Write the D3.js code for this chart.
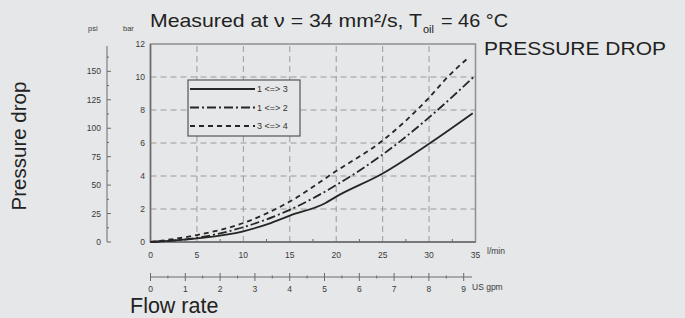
<!DOCTYPE html>
<html>
<head>
<meta charset="utf-8">
<script src="https://cdn.jsdelivr.net/npm/d3@7"></script>
<style>
  body { margin: 0; background: #e6e7e8; }
  svg { display: block; font-family: "Liberation Sans", Arial, sans-serif; }
</style>
</head>
<body>
<div id="chart"></div>
<script>
// curve readings (l/min -> bar)
const flow13 = [0, 5, 10, 12.7, 15, 18.8, 20, 25, 30, 34.7];
const dp13   = [0, 0.22, 0.65, 1.1, 1.6, 2.35, 2.75, 4.15, 5.95, 7.8];
const flow12 = [0, 5, 10, 15, 20, 25, 30, 34.8];
const dp12   = [0, 0.25, 0.9, 1.95, 3.45, 5.3, 7.55, 10.0];
const flow34 = [0, 5, 10, 15, 20, 25, 30, 32, 34.3];
const dp34   = [0, 0.42, 1.15, 2.45, 4.3, 6.15, 8.75, 10.0, 11.2];

const legendLabels = ['1 <=> 3', '1 <=> 2', '3 <=> 4'];
const dashes = [null, '9,3,2,3', '5,4'];

const lpmTicks = [0, 5, 10, 15, 20, 25, 30, 35];
const barTicks = [0, 2, 4, 6, 8, 10, 12];
const psiTicks = [0, 25, 50, 75, 100, 125, 150];
const gpmTicks = [0, 1, 2, 3, 4, 5, 6, 7, 8, 9];

const W = 685, H = 318;

const x = d3.scaleLinear().domain([0, 35]).range([150.5, 475.5]);
const y = d3.scaleLinear().domain([0, 12]).range([242, 44]);
const psi = d3.scaleLinear().domain([0, 12 * 14.5038]).range([242, 44]);
const gpm = d3.scaleLinear().domain([0, 9]).range([150.5, 463.7]);

const svg = d3.select('#chart').append('svg')
  .attr('width', W).attr('height', H);

svg.append('rect').attr('width', W).attr('height', H).attr('fill', '#e6e7e8');

// grid
const grid = svg.append('g').attr('stroke', '#9a9a9a').attr('stroke-width', 1).attr('stroke-dasharray', '6,4');
grid.selectAll('.gx').data(lpmTicks.slice(1, -1)).enter().append('line')
  .attr('x1', d => x(d)).attr('x2', d => x(d)).attr('y1', y(0)).attr('y2', y(12));
grid.selectAll('.gy').data(barTicks.slice(1, -1)).enter().append('line')
  .attr('y1', d => y(d)).attr('y2', d => y(d)).attr('x1', x(0)).attr('x2', x(35));

// frame
svg.append('rect')
  .attr('x', x(0)).attr('y', y(12))
  .attr('width', x(35) - x(0)).attr('height', y(0) - y(12))
  .attr('fill', 'none').attr('stroke', '#8e8e8e').attr('stroke-width', 1.5);
svg.append('line').attr('x1', x(0)).attr('x2', x(0)).attr('y1', y(0)).attr('y2', y(12))
  .attr('stroke', '#6a6a6a').attr('stroke-width', 1.5);
svg.append('line').attr('x1', x(0)).attr('x2', x(35)).attr('y1', y(0)).attr('y2', y(0))
  .attr('stroke', '#6a6a6a').attr('stroke-width', 1.5);

// minor ticks along bottom
svg.append('g').selectAll('line').data(d3.range(2.5, 35, 5)).enter().append('line')
  .attr('x1', d => x(d)).attr('x2', d => x(d)).attr('y1', y(0)).attr('y2', y(0) - 3)
  .attr('stroke', '#6a6a6a');

const tickText = '#3a3a3a';

// bar labels
svg.append('g').selectAll('text').data(barTicks).enter().append('text')
  .attr('x', 145).attr('y', d => y(d) + 3)
  .attr('text-anchor', 'end').attr('font-size', 8.5).attr('fill', tickText)
  .text(d => d);

// l/min labels
svg.append('g').selectAll('text').data(lpmTicks).enter().append('text')
  .attr('x', d => x(d)).attr('y', 258)
  .attr('text-anchor', 'middle').attr('font-size', 8.5).attr('fill', tickText)
  .text(d => d);
svg.append('text').attr('x', 487).attr('y', 254).attr('font-size', 8.5).attr('fill', tickText).text('l/min');

// psi axis
const psiG = svg.append('g').attr('stroke', '#6a6a6a');
psiG.append('line').attr('x1', 107).attr('x2', 107).attr('y1', psi(0)).attr('y2', 46);
psiG.selectAll('.mj').data(psiTicks).enter().append('line')
  .attr('x1', 107).attr('x2', 111).attr('y1', d => psi(d)).attr('y2', d => psi(d));
psiG.selectAll('.mn').data(d3.range(12.5, 170, 25)).enter().append('line')
  .attr('x1', 107).attr('x2', 109).attr('y1', d => psi(d)).attr('y2', d => psi(d));
svg.append('g').selectAll('text').data(psiTicks).enter().append('text')
  .attr('x', 101).attr('y', d => psi(d) + 3)
  .attr('text-anchor', 'end').attr('font-size', 8.5).attr('fill', tickText)
  .text(d => d);

svg.append('text').attr('x', 88).attr('y', 31).attr('font-size', 7.5).attr('fill', tickText).text('psi');
svg.append('text').attr('x', 123).attr('y', 31).attr('font-size', 7.5).attr('fill', tickText).text('bar');

// US gpm axis
const gy = 277;
const gG = svg.append('g').attr('stroke', '#6a6a6a');
gG.append('line').attr('x1', gpm(0)).attr('x2', 472).attr('y1', gy).attr('y2', gy);
gG.selectAll('.mj').data(gpmTicks).enter().append('line')
  .attr('x1', d => gpm(d)).attr('x2', d => gpm(d)).attr('y1', gy - 4).attr('y2', gy + 4);
gG.selectAll('.mn').data(d3.range(0.5, 9, 1)).enter().append('line')
  .attr('x1', d => gpm(d)).attr('x2', d => gpm(d)).attr('y1', gy - 1.5).attr('y2', gy + 1.5);
svg.append('g').selectAll('text').data(gpmTicks).enter().append('text')
  .attr('x', d => gpm(d)).attr('y', 292)
  .attr('text-anchor', 'middle').attr('font-size', 8.5).attr('fill', tickText)
  .text(d => d);
svg.append('text').attr('x', 472).attr('y', 290).attr('font-size', 8.5).attr('fill', tickText).text('US gpm');

// curves
const series = [
  { fx: flow13, fy: dp13 },
  { fx: flow12, fy: dp12 },
  { fx: flow34, fy: dp34 }
];
const line = d3.line().x(d => x(d[0])).y(d => y(d[1])).curve(d3.curveMonotoneX);
series.forEach((s, i) => {
  svg.append('path')
    .datum(d3.zip(s.fx, s.fy))
    .attr('d', line)
    .attr('fill', 'none').attr('stroke', '#262626').attr('stroke-width', 1.8)
    .attr('stroke-dasharray', dashes[i]);
});

// legend
const lg = svg.append('g');
lg.append('rect').attr('x', 188).attr('y', 80).attr('width', 112).attr('height', 56)
  .attr('fill', '#e6e7e8').attr('stroke', '#555').attr('stroke-width', 1.2);
legendLabels.forEach((t, i) => {
  const ly = 89 + i * 18.5;
  lg.append('line').attr('x1', 190).attr('x2', 255).attr('y1', ly).attr('y2', ly)
    .attr('stroke', '#262626').attr('stroke-width', 1.8).attr('stroke-dasharray', dashes[i]);
  lg.append('text').attr('x', 257).attr('y', ly + 3).attr('font-size', 9).attr('fill', '#333').text(t);
});

// titles
svg.append('text').attr('x', 150).attr('y', 27).attr('font-size', 19).attr('fill', '#222')
  .attr('textLength', 272).attr('lengthAdjust', 'spacingAndGlyphs')
  .text('Measured at \u03bd = 34 mm\u00b2/s, T');
svg.append('text').attr('x', 423).attr('y', 33).attr('font-size', 11).attr('fill', '#222').text('oil');
svg.append('text').attr('x', 441).attr('y', 27).attr('font-size', 19).attr('fill', '#222')
  .attr('textLength', 67).attr('lengthAdjust', 'spacingAndGlyphs')
  .text('= 46 \u00b0C');
svg.append('text').attr('x', 484).attr('y', 55).attr('font-size', 18.5).attr('fill', '#222')
  .attr('textLength', 182).attr('lengthAdjust', 'spacingAndGlyphs')
  .text('PRESSURE DROP');
svg.append('text').attr('x', 130).attr('y', 313).attr('font-size', 21.5).attr('fill', '#222')
  .text('Flow rate');
svg.append('text').attr('transform', 'translate(26,146) rotate(-90)')
  .attr('text-anchor', 'middle').attr('font-size', 20.5).attr('fill', '#222')
  .text('Pressure drop');
</script>
</body>
</html>
